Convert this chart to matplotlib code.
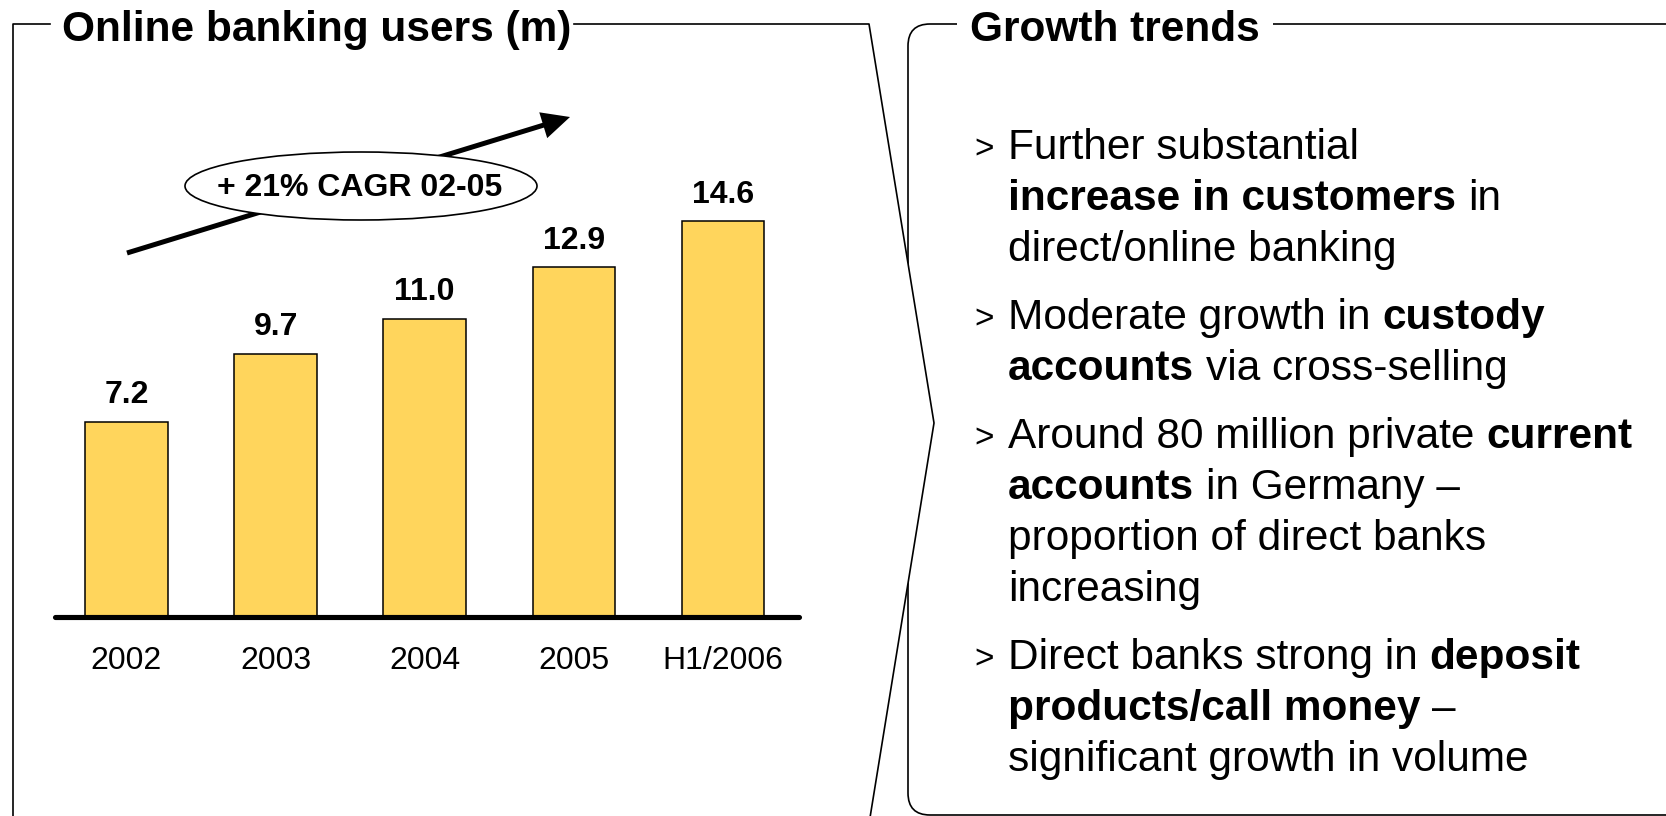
import numpy as np
import matplotlib
matplotlib.use('Agg')
import matplotlib.pyplot as plt
from matplotlib.patches import Polygon, FancyBboxPatch, Rectangle, Ellipse, FancyArrow

plt.rcParams['font.family'] = ['Liberation Sans', 'DejaVu Sans']

# Online banking users (m)
categories = ['2002', '2003', '2004', '2005', 'H1/2006']
users = [7.2, 9.7, 11.0, 12.9, 14.6]
cagr_label = '+ 21% CAGR 02-05'

left_title = 'Online banking users (m)'
right_title = 'Growth trends'

# Each bullet is a list of lines, each line a list of (text, bold) runs
bullets = [
    [[('Further substantial', False)],
     [('increase in customers', True), (' in', False)],
     [('direct/online banking', False)]],
    [[('Moderate growth in ', False), ('custody', True)],
     [('accounts', True), (' via cross-selling', False)]],
    [[('Around 80 million private ', False), ('current', True)],
     [('accounts', True), (' in Germany \u2013', False)],
     [('proportion of direct banks', False)],
     [('increasing', False)]],
    [[('Direct banks strong in ', False), ('deposit', True)],
     [('products/call money', True), (' \u2013', False)],
     [('significant growth in volume', False)]],
]

W, H = 1666, 816
fig = plt.figure(figsize=(W / 100, H / 100), dpi=100)

# overlay axes in pixel units (y down) for frames and text
ov = fig.add_axes([0, 0, 1, 1])
ov.set_xlim(0, W)
ov.set_ylim(H, 0)
ov.axis('off')

lw_frame = 1.2
fs_title = 30.5

# right box with rounded corners, gap in top edge for its title
ov.add_patch(FancyBboxPatch((908, 24), 800, 791,
                            boxstyle='round,pad=0,rounding_size=22',
                            fc='white', ec='black', lw=lw_frame, zorder=1))
ov.add_patch(Rectangle((957, 18), 316, 12, fc='white', ec='none', zorder=2))
ov.text(970, 41, right_title, fontsize=fs_title, weight='bold', va='baseline', zorder=3)

# left box: chevron pointing right, white fill covers the right box edge
left_pts = [(13, 830), (13, 24), (869, 24), (934, 423), (868, 830)]
ov.add_patch(Polygon(left_pts, closed=True, fc='white', ec='none', zorder=4))
ov.plot([13, 13, 50], [830, 24, 24], color='black', lw=lw_frame, zorder=5)
ov.plot([574, 869, 934, 868], [24, 24, 423, 830], color='black', lw=lw_frame, zorder=5)
ov.text(62, 41, left_title, fontsize=fs_title, weight='bold', va='baseline', zorder=5)

# trend arrow with the CAGR ellipse on top
ov.add_patch(FancyArrow(127, 253, 570 - 127, 117 - 253, width=5, head_width=27,
                        head_length=28, length_includes_head=True,
                        fc='black', ec='none', zorder=6))
ov.add_patch(Ellipse((361, 186), 352, 68, fc='white', ec='black', lw=1.2, zorder=7))
ov.text(360, 188, cagr_label, fontsize=23, weight='bold',
        ha='center', va='center', zorder=8)

# bullet text, runs placed one after the other
renderer = fig.canvas.get_renderer()
fs_body = 30.5


def text_width(s, weight):
    t = ov.text(0, 0, s, fontsize=fs_body, weight=weight)
    w = t.get_window_extent(renderer).width
    t.remove()
    return w


space_w = {w: text_width('n n', w) - text_width('nn', w) for w in ('normal', 'bold')}

x_text = 1008
x_bullet = 974
line_step = 51
group_gap = 68
y = 159
for group in bullets:
    ov.text(x_bullet, y, '>', fontsize=24, va='baseline', zorder=5)
    for line in group:
        x = x_text
        for run, bold in line:
            weight = 'bold' if bold else 'normal'
            lead = len(run) - len(run.lstrip(' '))
            x += lead * space_w[weight]
            body = run.strip(' ')
            t = ov.text(x, y, body, fontsize=fs_body, weight=weight, va='baseline', zorder=5)
            x += t.get_window_extent(renderer).width
            trail = len(run) - len(run.rstrip(' '))
            x += trail * space_w[weight]
        y += line_step
    y += group_gap - line_step

# bar chart axes: bar i centred at 126.5 + 149.1*i px, 27.1 px per million
x0, dx, y0, dy = 126.5, 149.1, 617, 27.1
xlim = (-0.65, 4.62)
ylim = (-4, 20)
left_px = x0 + dx * xlim[0]
right_px = x0 + dx * xlim[1]
bottom_px = H - (y0 - dy * ylim[0])
top_px = H - (y0 - dy * ylim[1])
ax = fig.add_axes([left_px / W, bottom_px / H, (right_px - left_px) / W, (top_px - bottom_px) / H])
ax.set_xlim(*xlim)
ax.set_ylim(*ylim)
ax.axis('off')
ax.patch.set_alpha(0)

pos = np.arange(len(categories))
ax.bar(pos, users, width=0.553, color='#FFD55C', edgecolor='black', linewidth=1.1, zorder=2)
ax.plot([-0.48, 4.51], [0, 0], color='black', lw=3.7, solid_capstyle='round', zorder=3)

for i, v in enumerate(users):
    ax.annotate(f'{v:.1f}', (i, v), xytext=(0, 13.5), textcoords='offset points',
                ha='center', va='baseline', fontsize=23, weight='bold')
    ax.annotate(categories[i], (i, 0), xytext=(0, -37.5), textcoords='offset points',
                ha='center', va='baseline', fontsize=23)

fig.savefig('out.png', dpi=100)
